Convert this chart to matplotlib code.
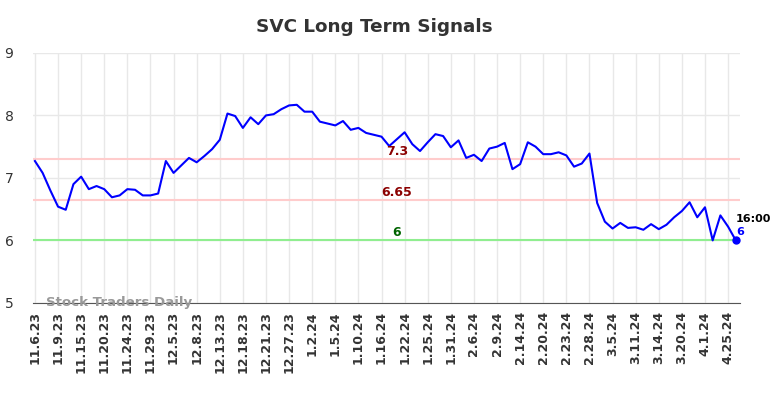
import matplotlib.pyplot as plt
import numpy as np

values = [7.27, 7.08, 6.80, 6.54, 6.49, 6.90, 7.02, 6.82, 6.87, 6.82,
          6.69, 6.72, 6.82, 6.81, 6.72, 6.72, 6.75, 7.27, 7.08, 7.20,
          7.32, 7.25, 7.35, 7.46, 7.61, 8.03, 7.99, 7.80, 7.97, 7.86,
          8.00, 8.02, 8.10, 8.16, 8.17, 8.06, 8.06, 7.90, 7.87, 7.84,
          7.91, 7.77, 7.80, 7.72, 7.69, 7.66, 7.51, 7.62, 7.73, 7.54,
          7.43, 7.57, 7.70, 7.67, 7.49, 7.60, 7.32, 7.37, 7.27, 7.47,
          7.50, 7.56, 7.14, 7.22, 7.57, 7.50, 7.38, 7.38, 7.41, 7.36,
          7.18, 7.23, 7.39, 6.60, 6.30, 6.19, 6.28, 6.20, 6.21, 6.17,
          6.26, 6.18, 6.25, 6.37, 6.47, 6.61, 6.37, 6.53, 6.00, 6.40,
          6.22, 6.00]
tick_labels = ['11.6.23', '11.9.23', '11.15.23', '11.20.23', '11.24.23', '11.29.23',
               '12.5.23', '12.8.23', '12.13.23', '12.18.23', '12.21.23', '12.27.23',
               '1.2.24', '1.5.24', '1.10.24', '1.16.24', '1.22.24', '1.25.24',
               '1.31.24', '2.6.24', '2.9.24', '2.14.24', '2.20.24', '2.23.24',
               '2.28.24', '3.5.24', '3.11.24', '3.14.24', '3.20.24', '4.1.24',
               '4.25.24']
tick_step = 3
levels = [7.3, 6.65, 6]
level_labels = ['7.3', '6.65', '6']
last_time = '16:00'
last_label = '6'

fig = plt.figure(figsize=(7.84, 3.98), dpi=100)
ax = fig.add_axes([0.042, 0.239, 0.902, 0.628])

x = np.arange(len(values))
ax.plot(x, values, color='blue', lw=1.5, zorder=3)
ax.plot(x[-1], values[-1], 'o', color='blue', ms=5, zorder=4)

line_cols = ['#ffcccc', '#ffcccc', '#90ee90']
text_cols = ['#8b0000', '#8b0000', '#006400']
for lv, lb, lc, tc in zip(levels, level_labels, line_cols, text_cols):
    ax.axhline(lv, color=lc, lw=1.5, zorder=2)
    ax.text(47, lv + 0.02, lb, color=tc, fontsize=9, fontweight='bold',
            ha='center', va='bottom', zorder=5)

ax.text(x[-1], values[-1] + 0.27, last_time, fontsize=8, fontweight='bold',
        color='black', ha='left', va='bottom')
ax.text(x[-1], values[-1] + 0.06, last_label, fontsize=8, fontweight='bold',
        color='blue', ha='left', va='bottom')

ax.text(1.5, 5.0, 'Stock Traders Daily', fontsize=9.6, fontweight='bold',
        color='#999999', ha='left', va='center')

ax.set_xlim(-0.26, 91.56)
ax.set_ylim(5, 9)
ax.set_yticks([5, 6, 7, 8, 9])
ax.set_xticks(x[::tick_step][:len(tick_labels)])
ax.set_xticklabels(tick_labels, rotation=90, fontsize=9, fontweight='bold',
                   color='#333333')
ax.tick_params(axis='y', labelsize=10, colors='#333333', length=0, pad=14)
ax.tick_params(axis='x', length=0, pad=6)
ax.grid(True, color='#e8e8e8', lw=1, zorder=0)
for s in ['top', 'right', 'left']:
    ax.spines[s].set_visible(False)
ax.spines['bottom'].set_color('#555555')

fig.text(0.478, 0.933, 'SVC Long Term Signals', fontsize=13.2, fontweight='bold',
         color='#333333', ha='center', va='center')

fig.savefig('out.png', dpi=100)
